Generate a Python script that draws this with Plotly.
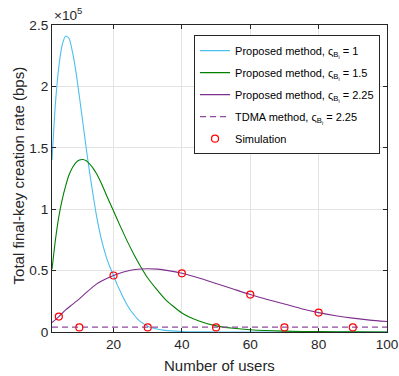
import plotly.graph_objects as go

# ---- data (values in units of 1e5 bps) ----
x_c1 = [2, 3, 4, 5, 6, 7, 8, 9, 10, 11, 12, 13, 14, 15, 16, 17, 18, 19, 20,
        21, 22, 23, 24, 25, 26, 27, 28, 30, 32, 35, 40, 45, 50, 60, 80, 100]
y_c1 = [1.40, 1.86, 2.16, 2.34, 2.41, 2.39, 2.28, 2.12, 1.92, 1.71, 1.50, 1.30,
        1.12, 0.95, 0.81, 0.695, 0.60, 0.525, 0.46, 0.39, 0.33, 0.27, 0.22, 0.175,
        0.14, 0.107, 0.082, 0.047, 0.028, 0.013, 0.004, 0.0012, 0.0004, 0.0, 0.0, 0.0]

x_c2 = [2, 3, 4, 5, 6, 7, 8, 9, 10, 11, 12, 13, 14, 15, 16, 17, 18, 20, 22, 24,
        26, 28, 30, 35, 40, 45, 50, 55, 60, 70, 80, 90, 100]
y_c2 = [0.51, 0.75, 0.94, 1.08, 1.19, 1.28, 1.34, 1.38, 1.40, 1.405, 1.395, 1.37,
        1.335, 1.29, 1.235, 1.175, 1.11, 0.985, 0.86, 0.74, 0.63, 0.53, 0.44, 0.27,
        0.155, 0.09, 0.05, 0.03, 0.018, 0.007, 0.003, 0.001, 0.0005]

x_c3 = [2, 4, 6, 8, 10, 12, 15, 18, 20, 22, 25, 28, 30, 33, 36, 40, 45, 50, 55,
        60, 65, 70, 75, 80, 85, 90, 95, 100]
y_c3 = [0.077, 0.126, 0.18, 0.225, 0.27, 0.32, 0.39, 0.435, 0.46, 0.48, 0.503,
        0.513, 0.515, 0.512, 0.50, 0.478, 0.44, 0.395, 0.35, 0.305, 0.265, 0.228,
        0.19, 0.158, 0.133, 0.113, 0.097, 0.085]

x_tdma = [2, 100]
y_tdma = [0.04, 0.04]

x_sim = [4, 10, 20, 30, 40, 50, 60, 70, 80, 90]
y_sim = [0.126, 0.037, 0.46, 0.037, 0.478, 0.037, 0.305, 0.037, 0.158, 0.037]

names = [
    "Proposed method, ς<sub>B<sub>i</sub></sub> = 1",
    "Proposed method, ς<sub>B<sub>i</sub></sub> = 1.5",
    "Proposed method, ς<sub>B<sub>i</sub></sub> = 2.25",
    "TDMA method, ς<sub>B<sub>i</sub></sub> = 2.25",
    "Simulation",
]

x_ticks = [20, 40, 60, 80, 100]
y_ticks = [0, 0.5, 1, 1.5, 2, 2.5]
y_ticklabels = ["0", "0.5", "1", "1.5", "2", "2.5"]

FONT = "Liberation Sans, Arial, sans-serif"

fig = go.Figure()
fig.add_trace(go.Scatter(x=x_c1, y=y_c1, mode="lines", name=names[0], legendgroup="a",
                         line=dict(color="#4DBEEE", width=1.1, shape="spline", smoothing=0.6)))
fig.add_trace(go.Scatter(x=x_c2, y=y_c2, mode="lines", name=names[1], legendgroup="b",
                         line=dict(color="#008000", width=1.1, shape="spline", smoothing=0.6)))
fig.add_trace(go.Scatter(x=x_c3, y=y_c3, mode="lines", name=names[2], legendgroup="c",
                         line=dict(color="#7E2F8E", width=1.1, shape="spline", smoothing=0.6)))
fig.add_trace(go.Scatter(x=x_tdma, y=y_tdma, mode="lines", name=names[3], legendgroup="d",
                         line=dict(color="#8E4A9E", width=1.1, dash="6px,4px")))
fig.add_trace(go.Scatter(x=x_sim, y=y_sim, mode="markers", name=names[4], legendgroup="e",
                         marker=dict(symbol="circle-open", size=7, color="#FF0000",
                                     line=dict(width=1.2, color="#FF0000"))))

axis_common = dict(
    showline=True, linecolor="#262626", linewidth=1, mirror="allticks",
    ticks="inside", ticklen=4, tickcolor="#262626",
    showgrid=True, gridcolor="#E3E3E3", gridwidth=1, zeroline=False,
    automargin=False,
    tickfont=dict(family=FONT, size=13.6, color="#262626"),
)

fig.update_xaxes(range=[2, 100], tickvals=x_ticks, **axis_common)
fig.update_yaxes(range=[0, 2.5], tickvals=y_ticks, ticktext=y_ticklabels, **axis_common)

fig.update_layout(
    width=399, height=376,
    margin=dict(l=52, r=12, t=25, b=44, autoexpand=False),
    plot_bgcolor="white", paper_bgcolor="white",
    font=dict(family=FONT, color="#262626"),
    showlegend=True,
    legend=dict(
        x=0.424, y=0.967, xanchor="left", yanchor="top",
        bgcolor="white", bordercolor="#262626", borderwidth=1,
        font=dict(family=FONT, size=11, color="#000000"),
        itemwidth=30, tracegroupgap=3, traceorder="grouped",
    ),
    annotations=[
        dict(text="Number of users", xref="paper", yref="paper", x=0.5, y=-0.1107,
             xanchor="center", yanchor="middle", showarrow=False,
             font=dict(family=FONT, size=15, color="#262626")),
        dict(text="Total final-key creation rate (bps)", xref="paper", yref="paper",
             x=-0.1015, y=0.51, xanchor="center", yanchor="middle", textangle=-90,
             showarrow=False, font=dict(family=FONT, size=15, color="#262626")),
        dict(text="×10<sup>5</sup>", xref="paper", yref="paper", x=0.0, y=1.0,
             xanchor="left", yanchor="bottom", showarrow=False,
             font=dict(family=FONT, size=13.6, color="#262626")),
    ],
)

fig.write_html(
    "out.html",
    config={"displayModeBar": False, "responsive": False},
    post_script=(
        "document.body.style.margin='0';"
        "document.body.style.overflow='hidden';"
        "document.documentElement.style.overflow='hidden';"
    ),
)
